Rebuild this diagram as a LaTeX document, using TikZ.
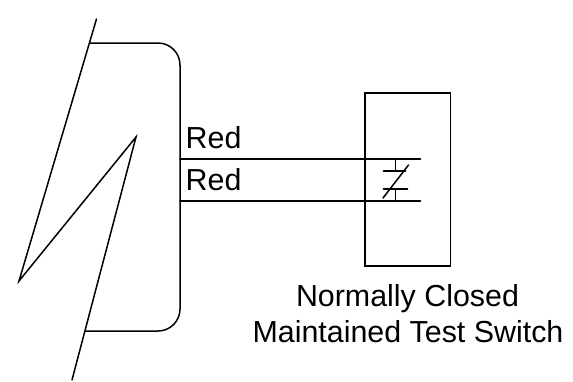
\documentclass[tikz,border=0pt]{standalone}
\usepackage{fontspec}
\setmainfont{Liberation Sans}
\tikzset{
  wire/.style={black,line width=1.5pt,line cap=round,line join=miter},
  labeltext/.style={inner sep=0pt,font=\fontsize{30.4pt}{36pt}\selectfont,text=black},
  switchbox/.style={draw=black,line width=1.5pt,minimum width=85.5pt,minimum height=173pt,inner sep=0pt,outer sep=0pt,anchor=north west}
}
\begin{document}
\begin{tikzpicture}[x=1pt,y=-1pt]
\useasboundingbox (0,0) rectangle (573,381);
\fill[white] (0,0) rectangle (573,381);
% break line
\coordinate (zA) at (96.5,19);
\coordinate (zB) at (19,281);
\coordinate (zC) at (136,137);
\coordinate (zD) at (72,380);
\draw[wire,miter limit=20] (zA) -- (zB) -- (zC) -- (zD);
% rounded enclosure
\coordinate (encT) at (89.5,43);
\coordinate (encB) at (85.5,331);
\draw[wire,rounded corners=22pt] (encT) -- (180,43) -- (180,331) -- (encB);
% switch box
\node[switchbox] (box) at (365,93) {};
% wires
\coordinate (w1a) at (180,159);
\coordinate (w1b) at (420.5,159);
\coordinate (w2a) at (180,201);
\coordinate (w2b) at (420.5,201);
\draw[wire] (w1a) -- (w1b);
\draw[wire] (w2a) -- (w2b);
% contact symbol
\coordinate (c1) at (395.5,159);
\coordinate (c2) at (395.5,171);
\coordinate (c3) at (395.5,189);
\coordinate (c4) at (395.5,201);
\draw[wire] (c1) -- (c2);
\draw[wire] (c3) -- (c4);
\coordinate (b1a) at (383.5,171);
\coordinate (b1b) at (405.5,171);
\coordinate (b2a) at (383.5,189);
\coordinate (b2b) at (407.5,189);
\draw[wire] (b1a) -- (b1b);
\draw[wire] (b2a) -- (b2b);
\coordinate (d1) at (408.5,165);
\coordinate (d2) at (383,198);
\draw[wire] (d1) -- (d2);
% labels
\node[labeltext,anchor=base west] (red1) at (185.5,148) {Red};
\node[labeltext,anchor=base west] (red2) at (185.5,190) {Red};
\node[labeltext,anchor=base] (cap1) at (407.5,306.5) {Normally Closed};
\node[labeltext,anchor=base] (cap2) at (408,342.5) {Maintained Test Switch};
\end{tikzpicture}
\end{document}
